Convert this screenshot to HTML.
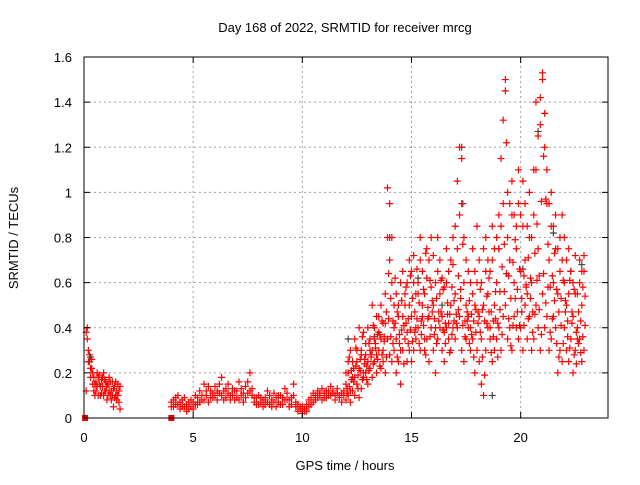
<!DOCTYPE html>
<html><head><meta charset="utf-8"><style>
body{margin:0;background:#fff;width:640px;height:480px;overflow:hidden}
svg{font-family:"Liberation Sans",sans-serif;font-size:13px}
</style></head><body>
<svg id="chart" width="640" height="480" xmlns="http://www.w3.org/2000/svg">
<rect width="640" height="480" fill="#fff"/>
<g id="grid"></g>
<g id="marks"></g>
<rect x="84" y="57" width="524" height="361" fill="none" stroke="#000" stroke-width="1"/>
<g id="axes"></g>
<text x="345" y="32" text-anchor="middle">Day 168 of 2022, SRMTID for receiver mrcg</text>
<text x="345" y="470" text-anchor="middle">GPS time / hours</text>
<text transform="translate(18,238) rotate(-90)" text-anchor="middle">SRMTID / TECUs</text>
</svg>
<script>
const xTicks=[0,5,10,15,20];
const yTicks=[0,0.2,0.4,0.6,0.8,1,1.2,1.4,1.6];
const yTickLabels=["0","0.2","0.4","0.6","0.8","1","1.2","1.4","1.6"];
const tA=[0.1,0.15,0.2,0.25,0.3,0.35,0.4,0.45,0.5,0.55,0.6,0.65,0.7,0.75,0.8,0.85,0.9,0.95,1.0,1.05,1.1,1.15,1.2,1.25,1.3,1.35,1.4,1.45,1.5,1.55,1.6,1.65];
const vA=[0.38,0.4,0.3,0.25,0.22,0.26,0.2,0.18,0.15,0.12,0.2,0.18,0.15,0.1,0.17,0.14,0.2,0.12,0.16,0.08,0.15,0.18,0.1,0.12,0.16,0.05,0.14,0.1,0.08,0.15,0.12,0.04];
const vA2=[0.12,0.35,0.25,0.28,0.18,0.22,0.15,0.12,0.1,0.16,0.14,0.1,0.19,0.14,0.11,0.18,0.1,0.17,0.12,0.14,0.1,0.12,0.16,0.08,0.1,0.13,0.09,0.16,0.12,0.1,0.07,0.14];
const tB=[4.0,4.1,4.2,4.3,4.4,4.5,4.6,4.7,4.8,4.9,5.0,5.1,5.2,5.3,5.4,5.5,5.6,5.7,5.8,5.9,6.0,6.1,6.2,6.3,6.4,6.5,6.6,6.7,6.8,6.9,7.0,7.1,7.2,7.3,7.4,7.5,7.6,7.7,7.8,7.9,8.0,8.1,8.2,8.3,8.4,8.5,8.6,8.7,8.8,8.9,9.0,9.1,9.2,9.3,9.4,9.5,9.6,9.7,9.8,9.9,10.0,10.1,10.2,10.3,10.4,10.5,10.6,10.7,10.8,10.9,11.0,11.1,11.2,11.3,11.4,11.5,11.6,11.7,11.8,11.9];
const vB=[0.07,0.05,0.09,0.06,0.04,0.08,0.05,0.03,0.07,0.05,0.04,0.1,0.06,0.12,0.08,0.15,0.1,0.07,0.12,0.09,0.14,0.08,0.11,0.18,0.12,0.09,0.15,0.1,0.13,0.08,0.12,0.16,0.1,0.07,0.14,0.11,0.2,0.13,0.09,0.06,0.1,0.07,0.05,0.09,0.12,0.06,0.08,0.11,0.05,0.07,0.1,0.06,0.13,0.08,0.05,0.09,0.15,0.07,0.03,0.05,0.02,0.04,0.03,0.08,0.06,0.11,0.08,0.12,0.1,0.13,0.09,0.12,0.1,0.14,0.11,0.08,0.13,0.1,0.07,0.12];
const vB2=[0.05,0.08,0.06,0.1,0.07,0.05,0.09,0.06,0.04,0.08,0.07,0.06,0.09,0.07,0.1,0.08,0.12,0.14,0.09,0.11,0.1,0.12,0.15,0.1,0.08,0.13,0.11,0.08,0.1,0.12,0.09,0.08,0.13,0.11,0.09,0.16,0.12,0.1,0.07,0.09,0.06,0.09,0.08,0.06,0.07,0.1,0.05,0.07,0.09,0.1,0.06,0.09,0.08,0.11,0.08,0.06,0.1,0.05,0.06,0.04,0.05,0.03,0.06,0.05,0.09,0.07,0.1,0.09,0.11,0.08,0.11,0.09,0.12,0.1,0.12,0.1,0.11,0.09,0.11,0.1];
const tC=[12.0,12.1,12.2,12.3,12.4,12.5,12.6,12.7,12.8,12.9,13.0,13.1,13.2,13.3,13.4,13.5,13.6,13.7,13.8,13.9,14.0,14.1,14.2,14.3,14.4,14.5,14.6,14.7,14.8,14.9,15.0,15.1,15.2,15.3,15.4,15.5,15.6,15.7,15.8,15.9,16.0,16.1,16.2,16.3,16.4,16.5,16.6,16.7,16.8,16.9,17.0,17.1,17.2,17.3,17.4,17.5,17.6,17.7,17.8,17.9,18.0,18.1,18.2,18.3,18.4,18.5,18.6,18.7,18.8,18.9,19.0,19.1,19.2,19.3,19.4,19.5,19.6,19.7,19.8,19.9,20.0,20.1,20.2,20.3,20.4,20.5,20.6,20.7,20.8,20.9,21.0,21.1,21.2,21.3,21.4,21.5,21.6,21.7,21.8,21.9,22.0,22.1,22.2,22.3,22.4,22.5,22.6,22.7,22.8,22.9];
const tC2=[12.05,12.15,12.25,12.35,12.45,12.55,12.65,12.75,12.85,12.95,13.05,13.15,13.25,13.35,13.45,13.55,13.65,13.75,13.85,13.95,14.05,14.15,14.25,14.35,14.45,14.55,14.65,14.75,14.85,14.95,15.05,15.15,15.25,15.35,15.45,15.55,15.65,15.75,15.85,15.95,16.05,16.15,16.25,16.35,16.45,16.55,16.65,16.75,16.85,16.95,17.05,17.15,17.25,17.35,17.45,17.55,17.65,17.75,17.85,17.95,18.05,18.15,18.25,18.35,18.45,18.55,18.65,18.75,18.85,18.95,19.05,19.15,19.25,19.35,19.45,19.55,19.65,19.75,19.85,19.95,20.05,20.15,20.25,20.35,20.45,20.55,20.65,20.75,20.85,20.95,21.05,21.15,21.25,21.35,21.45,21.55,21.65,21.75,21.85,21.95,22.05,22.15,22.25,22.35,22.45,22.55,22.65,22.75,22.85,22.95];
const vC1=[0.15,0.2,0.12,0.25,0.18,0.3,0.22,0.28,0.2,0.33,0.25,0.35,0.3,0.4,0.28,0.45,0.35,0.3,0.42,0.8,0.95,0.6,0.4,0.35,0.5,0.3,0.45,0.55,0.38,0.5,0.45,0.6,0.4,0.55,0.7,0.5,0.35,0.62,0.45,0.58,0.5,0.4,0.65,0.55,0.45,0.38,0.6,0.42,0.5,0.68,0.55,0.75,0.9,1.15,0.6,0.5,0.45,0.4,0.55,0.5,0.6,0.45,0.35,0.5,0.65,0.55,0.4,0.7,0.5,0.6,0.75,0.85,0.95,1.45,0.8,0.7,0.9,0.6,0.75,0.95,0.65,0.85,0.7,0.55,0.8,0.6,0.9,1.1,0.75,1.3,1.5,1.2,0.95,0.7,0.85,0.6,0.75,0.55,0.65,0.7,0.6,0.5,0.55,0.65,0.45,0.55,0.35,0.6,0.5,0.65];
const vC2=[0.08,0.1,0.07,0.12,0.1,0.15,0.09,0.13,0.18,0.2,0.15,0.22,0.18,0.25,0.2,0.3,0.22,0.25,0.2,0.35,0.28,0.25,0.3,0.2,0.25,0.15,0.3,0.35,0.25,0.3,0.25,0.3,0.35,0.4,0.3,0.45,0.3,0.35,0.25,0.4,0.3,0.2,0.35,0.4,0.3,0.25,0.4,0.35,0.3,0.4,0.35,0.4,0.45,0.3,0.25,0.35,0.4,0.3,0.35,0.2,0.3,0.25,0.15,0.1,0.3,0.4,0.35,0.25,0.3,0.35,0.4,0.3,0.45,0.5,0.35,0.4,0.3,0.45,0.4,0.35,0.4,0.3,0.5,0.35,0.45,0.3,0.35,0.5,0.4,0.3,0.55,0.4,0.45,0.3,0.35,0.45,0.4,0.2,0.3,0.25,0.4,0.3,0.25,0.35,0.2,0.3,0.4,0.35,0.25,0.3];
const vC3=[0.2,0.25,0.3,0.18,0.35,0.25,0.4,0.3,0.38,0.28,0.4,0.3,0.5,0.35,0.45,0.38,0.5,0.42,0.55,1.02,0.7,0.8,0.5,0.55,0.45,0.6,0.65,0.5,0.6,0.7,0.65,0.72,0.55,0.6,0.8,0.65,0.55,0.75,0.7,0.8,0.72,0.6,0.8,0.7,0.62,0.58,0.75,0.65,0.7,0.8,0.85,1.05,1.2,0.95,0.8,0.7,0.65,0.6,0.75,0.65,0.85,0.7,0.6,0.75,0.8,0.7,0.65,0.85,0.75,0.8,0.9,1.15,1.32,1.5,1.0,0.95,1.05,0.9,0.85,1.1,0.9,1.05,0.95,0.85,1.0,0.8,1.1,1.4,1.25,1.42,1.53,1.35,1.1,0.95,1.0,0.85,0.9,0.75,0.8,0.9,0.8,0.7,0.75,0.65,0.6,0.72,0.55,0.7,0.65,0.72];
const vC4=[0.13,0.27,0.17,0.22,0.31,0.19,0.26,0.36,0.24,0.17,0.33,0.27,0.41,0.31,0.37,0.23,0.43,0.36,0.47,0.64,0.53,0.43,0.62,0.47,0.37,0.52,0.41,0.58,0.44,0.63,0.53,0.47,0.66,0.51,0.43,0.57,0.73,0.49,0.61,0.52,0.44,0.53,0.47,0.61,0.57,0.42,0.51,0.46,0.58,0.43,0.46,0.63,0.53,0.77,0.43,0.47,0.52,0.37,0.43,0.48,0.42,0.57,0.48,0.43,0.54,0.62,0.47,0.43,0.56,0.42,0.56,0.67,0.77,1.22,0.63,0.53,0.69,0.79,0.57,0.66,0.53,0.63,0.59,0.71,0.62,0.47,0.73,0.86,0.63,0.96,1.16,0.97,0.77,0.58,0.63,0.73,0.57,0.47,0.53,0.61,0.52,0.43,0.61,0.47,0.57,0.38,0.47,0.43,0.58,0.54];
const vC5=[0.11,0.14,0.21,0.16,0.23,0.13,0.21,0.17,0.26,0.23,0.21,0.28,0.24,0.33,0.26,0.37,0.28,0.34,0.27,0.44,0.36,0.33,0.42,0.27,0.33,0.39,0.24,0.42,0.33,0.39,0.34,0.38,0.44,0.33,0.37,0.41,0.28,0.44,0.36,0.47,0.37,0.33,0.43,0.47,0.39,0.33,0.46,0.29,0.37,0.52,0.42,0.48,0.57,0.41,0.36,0.43,0.33,0.46,0.27,0.38,0.47,0.38,0.27,0.19,0.42,0.47,0.29,0.36,0.44,0.27,0.48,0.37,0.56,0.64,0.44,0.32,0.41,0.53,0.47,0.41,0.47,0.41,0.58,0.44,0.53,0.38,0.46,0.61,0.48,0.37,0.64,0.51,0.58,0.38,0.44,0.52,0.33,0.27,0.41,0.33,0.47,0.36,0.31,0.42,0.28,0.24,0.33,0.29,0.36,0.41];
const tGray=[0.3,12.1,13.3,14.0,15.3,16.4,17.3,17.35,18.7,19.0,20.1,20.8,21.5,22.3,22.8];
const vGray=[0.27,0.35,0.36,0.8,0.62,0.5,1.2,0.95,0.1,0.75,0.66,1.27,0.82,0.65,0.68];
const tSquare=[0.05,4.0];
const vSquare=[0,0];

const X0=84,X1=608,Y0=418,Y1=57,XMAX=24,YMAX=1.6;
const xs=t=>X0+t/XMAX*(X1-X0);
const ys=v=>Y0-v/YMAX*(Y0-Y1);
const NS="http://www.w3.org/2000/svg";
const grid=document.getElementById('grid'),axes=document.getElementById('axes'),marks=document.getElementById('marks');
function mk(tag,a,p){const e=document.createElementNS(NS,tag);for(const k in a)e.setAttribute(k,a[k]);p.appendChild(e);return e;}
xTicks.forEach(t=>{const x=xs(t);
 if(t>0){const g=mk('line',{x1:x,y1:Y0,x2:x,y2:Y1,stroke:'#a0a0a0','stroke-dasharray':'2,3'},grid);
 
 }
 const tk=mk('path',{d:`M${x},${Y0}v-6M${x},${Y1}v6`,stroke:'#000'},axes);
 
 
 const l=mk('text',{x:x,y:442,'text-anchor':'middle'},axes);l.textContent=t;
 
 });
yTicks.forEach((v,i)=>{const y=ys(v);
 if(v>0&&v<YMAX){const g=mk('line',{x1:X0,y1:y,x2:X1,y2:y,stroke:'#a0a0a0','stroke-dasharray':'2,3'},grid);
 
 }
 const tk=mk('path',{d:`M${X0},${y}h6M${X1},${y}h-6`,stroke:'#000'},axes);
 
 
 const l=mk('text',{x:72,y:y+5,'text-anchor':'end'},axes);l.textContent=yTickLabels[i];
 
 });
function plus(t,v,c){const x=xs(t),y=ys(v);
 const p=mk('path',{d:`M${x-3.5},${y}h7M${x},${y-3.5}v7`,stroke:c,'stroke-width':1.2},marks);
 
 }
function series(T,V,c){T.forEach((t,i)=>plus(t,V[i],c));}
series(tGray,vGray,'#444');
series(tA,vA,'#f00');series(tA,vA2,'#f00');
series(tB,vB,'#f00');series(tB,vB2,'#f00');
series(tC,vC1,'#f00');series(tC,vC2,'#f00');series(tC,vC3,'#f00');
series(tC2,vC4,'#f00');series(tC2,vC5,'#f00');
tSquare.forEach((t,i)=>{const s=mk('rect',{x:xs(t)-3,y:ys(vSquare[i])-3,width:6,height:6,fill:'#e00'},marks);
 
 });
</script>
</body></html>
